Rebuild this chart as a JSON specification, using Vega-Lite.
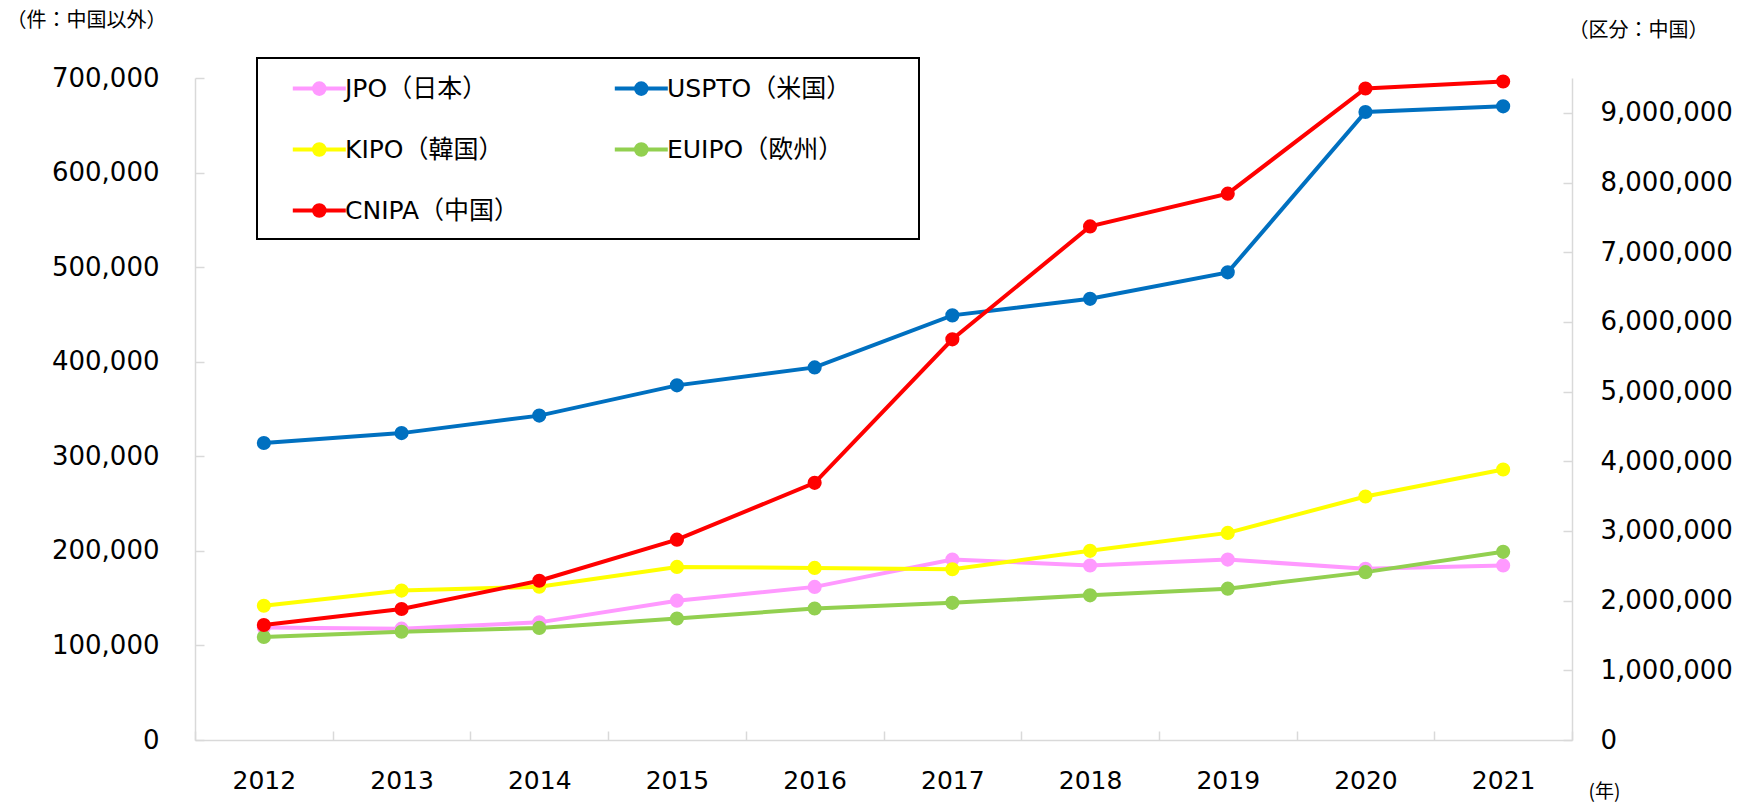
{
  "$schema": "https://vega.github.io/schema/vega-lite/v6.json",
  "width": 1377,
  "height": 662,
  "autosize": {"type": "none"},
  "padding": {"left": 195, "top": 78, "right": 168, "bottom": 62},
  "background": "white",
  "config": {"view": {"stroke": null}, "font": "DejaVu Sans"},
  "data": {"values": [
    {"year": "2012", "office": "JPO（日本）", "value": 119000},
    {"year": "2013", "office": "JPO（日本）", "value": 117700},
    {"year": "2014", "office": "JPO（日本）", "value": 124400},
    {"year": "2015", "office": "JPO（日本）", "value": 147300},
    {"year": "2016", "office": "JPO（日本）", "value": 161900},
    {"year": "2017", "office": "JPO（日本）", "value": 190900},
    {"year": "2018", "office": "JPO（日本）", "value": 184500},
    {"year": "2019", "office": "JPO（日本）", "value": 190800},
    {"year": "2020", "office": "JPO（日本）", "value": 181100},
    {"year": "2021", "office": "JPO（日本）", "value": 184600},
    {"year": "2012", "office": "USPTO（米国）", "value": 314000},
    {"year": "2013", "office": "USPTO（米国）", "value": 324500},
    {"year": "2014", "office": "USPTO（米国）", "value": 343000},
    {"year": "2015", "office": "USPTO（米国）", "value": 375000},
    {"year": "2016", "office": "USPTO（米国）", "value": 394000},
    {"year": "2017", "office": "USPTO（米国）", "value": 449000},
    {"year": "2018", "office": "USPTO（米国）", "value": 466500},
    {"year": "2019", "office": "USPTO（米国）", "value": 494500},
    {"year": "2020", "office": "USPTO（米国）", "value": 664000},
    {"year": "2021", "office": "USPTO（米国）", "value": 670000},
    {"year": "2012", "office": "KIPO（韓国）", "value": 142000},
    {"year": "2013", "office": "KIPO（韓国）", "value": 158000},
    {"year": "2014", "office": "KIPO（韓国）", "value": 162000},
    {"year": "2015", "office": "KIPO（韓国）", "value": 183000},
    {"year": "2016", "office": "KIPO（韓国）", "value": 182000},
    {"year": "2017", "office": "KIPO（韓国）", "value": 180500},
    {"year": "2018", "office": "KIPO（韓国）", "value": 200000},
    {"year": "2019", "office": "KIPO（韓国）", "value": 219000},
    {"year": "2020", "office": "KIPO（韓国）", "value": 257500},
    {"year": "2021", "office": "KIPO（韓国）", "value": 286000},
    {"year": "2012", "office": "EUIPO（欧州）", "value": 109000},
    {"year": "2013", "office": "EUIPO（欧州）", "value": 114500},
    {"year": "2014", "office": "EUIPO（欧州）", "value": 118500},
    {"year": "2015", "office": "EUIPO（欧州）", "value": 128500},
    {"year": "2016", "office": "EUIPO（欧州）", "value": 139000},
    {"year": "2017", "office": "EUIPO（欧州）", "value": 145000},
    {"year": "2018", "office": "EUIPO（欧州）", "value": 153000},
    {"year": "2019", "office": "EUIPO（欧州）", "value": 160000},
    {"year": "2020", "office": "EUIPO（欧州）", "value": 177500},
    {"year": "2021", "office": "EUIPO（欧州）", "value": 199000},
    {"year": "2012", "office": "CNIPA（中国）", "value": 1650000},
    {"year": "2013", "office": "CNIPA（中国）", "value": 1880000},
    {"year": "2014", "office": "CNIPA（中国）", "value": 2285000},
    {"year": "2015", "office": "CNIPA（中国）", "value": 2875000},
    {"year": "2016", "office": "CNIPA（中国）", "value": 3690000},
    {"year": "2017", "office": "CNIPA（中国）", "value": 5750000},
    {"year": "2018", "office": "CNIPA（中国）", "value": 7370000},
    {"year": "2019", "office": "CNIPA（中国）", "value": 7840000},
    {"year": "2020", "office": "CNIPA（中国）", "value": 9350000},
    {"year": "2021", "office": "CNIPA（中国）", "value": 9450000}
  ]},
  "encoding": {
    "x": {
      "field": "year", "type": "ordinal",
      "scale": {"type": "band", "paddingInner": 0, "paddingOuter": 0},
      "axis": {
        "title": "(年)", "titleFont": "Noto Sans CJK JP", "titleFontSize": 19, "titleFontWeight": "normal",
        "titleColor": "black", "titleAlign": "left", "titleBaseline": "middle", "titleX": 1393, "titleY": 51,
        "labelAngle": 0, "labelFont": "DejaVu Sans", "labelFontSize": 25, "labelColor": "black",
        "labelBaseline": "middle", "labelPadding": 49,
        "domainColor": "#d9d9d9", "domainWidth": 1.5, "tickColor": "#d9d9d9", "tickWidth": 1.5,
        "tickSize": -9, "tickBand": "extent", "grid": false
      }
    },
    "color": {
      "field": "office", "type": "nominal",
      "scale": {
        "domain": ["JPO（日本）", "KIPO（韓国）", "CNIPA（中国）", "USPTO（米国）", "EUIPO（欧州）"],
        "range": ["#FF99FF", "#FFFF00", "#FF0000", "#0070C0", "#92D050"]
      },
      "legend": {
        "orient": "none", "legendX": 62, "legendY": -20, "columns": 2, "title": null,
        "padding": 15, "symbolType": "M0.4,0L4.4,0M2.8,0A0.4,0.4,0,1,1,2.0,0A0.4,0.4,0,1,1,2.8,0Z",
        "symbolSize": 702, "symbolStrokeWidth": 4, "labelOffset": 42, "labelLimit": 400,
        "labelExpr": "datum.label + (test(/USPTO|EUIPO/, datum.label) ? '\u3000     \u200b' : '\u3000    \u200b')",
        "labelFont": "DejaVu Sans, Noto Sans CJK JP", "labelFontSize": 25, "labelColor": "black",
        "rowPadding": 32, "columnPadding": 30,
        "encode": {
          "symbols": {"update": {"fill": {"scale": "color", "field": "value"}, "stroke": {"scale": "color", "field": "value"}, "opacity": {"value": 1}}},
          "legend": {"update": {"stroke": {"value": "black"}, "strokeWidth": {"value": 2}}}
        }
      }
    }
  },
  "layer": [
    {
      "transform": [{"filter": "datum.office !== 'CNIPA（中国）'"}],
      "mark": {"type": "line", "strokeWidth": 4, "point": {"filled": true, "size": 200, "opacity": 1}},
      "encoding": {
        "y": {
          "field": "value", "type": "quantitative",
          "scale": {"domain": [0, 700000], "nice": false},
          "axis": {
            "title": "（件：中国以外）", "titleFont": "Noto Sans CJK JP", "titleFontSize": 20, "titleFontWeight": "normal",
            "titleColor": "black", "titleAngle": 0, "titleAlign": "left", "titleBaseline": "middle",
            "titleX": -189, "titleY": -58,
            "values": [0, 100000, 200000, 300000, 400000, 500000, 600000, 700000], "format": ",d",
            "labelFont": "DejaVu Sans", "labelFontSize": 26, "labelColor": "black", "labelPadding": 45,
            "domainColor": "#d9d9d9", "domainWidth": 1.5, "tickColor": "#d9d9d9", "tickWidth": 1.5,
            "tickSize": -9, "grid": false
          }
        }
      }
    },
    {
      "transform": [{"filter": "datum.office === 'CNIPA（中国）'"}],
      "mark": {"type": "line", "strokeWidth": 4, "point": {"filled": true, "size": 200, "opacity": 1}},
      "encoding": {
        "y": {
          "field": "value", "type": "quantitative",
          "scale": {"domain": [0, 9500000], "nice": false},
          "axis": {
            "orient": "right",
            "title": "（区分：中国）", "titleFont": "Noto Sans CJK JP", "titleFontSize": 20, "titleFontWeight": "normal",
            "titleColor": "black", "titleAngle": 0, "titleAlign": "left", "titleBaseline": "middle",
            "titleX": -4, "titleY": -48,
            "values": [0, 1000000, 2000000, 3000000, 4000000, 5000000, 6000000, 7000000, 8000000, 9000000], "format": ",d",
            "labelFont": "DejaVu Sans", "labelFontSize": 26, "labelColor": "black", "labelPadding": 37,
            "domainColor": "#d9d9d9", "domainWidth": 1.5, "tickColor": "#d9d9d9", "tickWidth": 1.5,
            "tickSize": -9, "grid": false
          }
        }
      }
    }
  ],
  "resolve": {"scale": {"y": "independent"}}
}
